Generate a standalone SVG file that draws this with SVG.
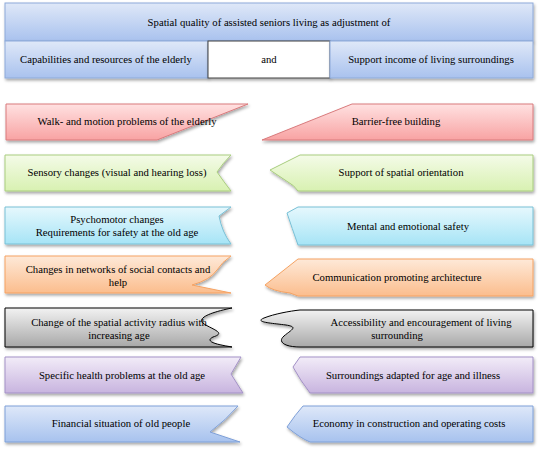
<svg xmlns="http://www.w3.org/2000/svg" width="540" height="449" viewBox="0 0 540 449">
<defs>
<filter id="sh" x="-10%" y="-20%" width="120%" height="150%">
<feDropShadow dx="1" dy="2" stdDeviation="1.4" flood-color="#000" flood-opacity="0.35"/>
</filter>
<linearGradient id="gHead" x1="0" y1="0" x2="0" y2="1"><stop offset="0" stop-color="#dfe8f8"/><stop offset="1" stop-color="#a9c2ee"/></linearGradient>
<linearGradient id="gRed" x1="0" y1="0" x2="0" y2="1"><stop offset="0" stop-color="#ffe1e1"/><stop offset="1" stop-color="#f8a3a3"/></linearGradient>
<linearGradient id="gGreen" x1="0" y1="0" x2="0" y2="1"><stop offset="0" stop-color="#f4fbe8"/><stop offset="1" stop-color="#d8f1b1"/></linearGradient>
<linearGradient id="gCyan" x1="0" y1="0" x2="0" y2="1"><stop offset="0" stop-color="#e6f8fd"/><stop offset="1" stop-color="#a6e4f6"/></linearGradient>
<linearGradient id="gOrange" x1="0" y1="0" x2="0" y2="1"><stop offset="0" stop-color="#fee9d8"/><stop offset="1" stop-color="#fbbd8d"/></linearGradient>
<linearGradient id="gGray" x1="0" y1="0" x2="0" y2="1"><stop offset="0" stop-color="#f2f2f2"/><stop offset="1" stop-color="#a8a8a8"/></linearGradient>
<linearGradient id="gPurple" x1="0" y1="0" x2="0" y2="1"><stop offset="0" stop-color="#f2ecf8"/><stop offset="1" stop-color="#c8b4df"/></linearGradient>
<linearGradient id="gBlue" x1="0" y1="0" x2="0" y2="1"><stop offset="0" stop-color="#dee8f9"/><stop offset="1" stop-color="#a7c2ee"/></linearGradient>
</defs>
<style>
.s{filter:url(#sh);stroke-width:1}
.head{fill:url(#gHead);stroke:#8eaad9}
.and{fill:#fff;stroke:#404040}
.red{fill:url(#gRed);stroke:#d97a7c}
.green{fill:url(#gGreen);stroke:#a9cd7e}
.cyan{fill:url(#gCyan);stroke:#78c0d6}
.orange{fill:url(#gOrange);stroke:#f5a262}
.gray{fill:url(#gGray);stroke:#000}
.purple{fill:url(#gPurple);stroke:#a391c6}
.blue{fill:url(#gBlue);stroke:#7fa0d8}
</style>
<g font-family="Liberation Serif, DejaVu Serif, serif" font-size="10.7" text-anchor="middle" fill="#000">
<g id="title">
<rect class="s head" x="5" y="3" width="528" height="38"/>
<text x="269" y="26">Spatial quality of assisted seniors living as adjustment of</text>
</g>
<g id="capabilities">
<rect class="s head" x="5" y="41" width="203" height="37"/>
<text x="106" y="63">Capabilities and resources of the elderly</text>
</g>
<g id="and">
<rect class="s and" x="208" y="41" width="122" height="37"/>
<text x="269" y="63">and</text>
</g>
<g id="support">
<rect class="s head" x="330" y="41" width="203" height="37"/>
<text x="431" y="63">Support income of living surroundings</text>
</g>

<g id="walk">
<path class="s red" d="M6,104 H248 L157,140 H6 Z"/>
<text x="127" y="125">Walk- and motion problems of the elderly</text>
</g>
<g id="barrier">
<path class="s red" d="M352,104 H533 V140 H262 Z"/>
<text x="396" y="125">Barrier-free building</text>
</g>

<g id="sensory">
<path class="s green" d="M5,155 H231 Q223,163 217,172 Q224,182 231,191 H5 Z"/>
<text x="117" y="176">Sensory changes (visual and hearing loss)</text>
</g>
<g id="orientation">
<path class="s green" d="M300,155 H533 V191 H298 Q294,185 288,182 L270,170 Z"/>
<text x="401" y="176">Support of spatial orientation</text>
</g>

<g id="psychomotor">
<path class="s cyan" d="M5,207 H231 L219,216 Q222,232 231,244 H5 Z"/>
<text x="117" y="223">Psychomotor changes</text>
<text x="117" y="236">Requirements for safety at the old age</text>
</g>
<g id="mental">
<path class="s cyan" d="M298,207 H533 V245 H298 Q292,228 287,213 Z"/>
<text x="408" y="230">Mental and emotional safety</text>
</g>

<g id="networks">
<path class="s orange" d="M5,256 H231 Q222,262 217,270 Q210,280 192,285 L231,293 H5 Z"/>
<text x="118" y="273">Changes in networks of social contacts and</text>
<text x="118" y="286">help</text>
</g>
<g id="communication">
<path class="s orange" d="M298,259 H533 V296 H298 L290,293 Q272,291 265,285 Z"/>
<text x="397" y="281">Communication promoting architecture</text>
</g>

<g id="radius">
<path class="s gray" d="M5,308 H232 C212,312 195,318 204,324 C214,330 226,333 213,337 C203,342 220,345 232,347 H5 Z"/>
<text x="119" y="326">Change of the spatial activity radius with</text>
<text x="119" y="339">increasing age</text>
</g>
<g id="accessibility">
<path class="s gray" d="M300,310 H533 V347 H300 C285,347 277,342 284,336 C291,330 299,327 286,325 C270,323 254,322 264,318 C274,314 290,311 300,310 Z"/>
<text x="421" y="326">Accessibility and encouragement of living</text>
<text x="397" y="339">surrounding</text>
</g>

<g id="health">
<path class="s purple" d="M5,357 H241 L231,374 L243,393 H5 Z"/>
<text x="122" y="379">Specific health problems at the old age</text>
</g>
<g id="surroundings">
<path class="s purple" d="M300,357 H533 V393 H310 Q300,380 293,367 Z"/>
<text x="413" y="379">Surroundings adapted for age and illness</text>
</g>

<g id="financial">
<path class="s blue" d="M5,406 H238 Q226,420 210,432 L240,442 H5 Z"/>
<text x="121" y="427">Financial situation of old people</text>
</g>
<g id="economy">
<path class="s blue" d="M303,406 H533 V442 H310 Q300,438 287,427 Q295,415 303,406 Z"/>
<text x="409" y="427">Economy in construction and operating costs</text>
</g>
</g>
<g id="connectors"></g>
</svg>
